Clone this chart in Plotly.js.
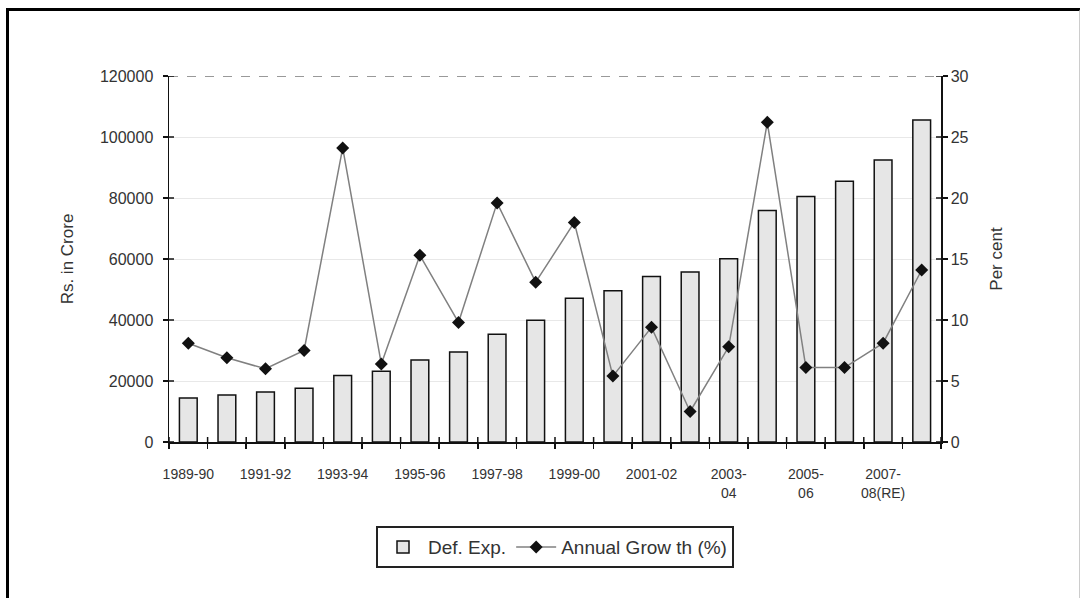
<!DOCTYPE html>
<html>
<head>
<meta charset="utf-8">
<script src="https://cdn.plot.ly/plotly-3.0.1.min.js"></script>
<style>
html,body{margin:0;padding:0;background:#fff;}
#wrap{position:relative;width:1080px;height:598px;overflow:hidden;}
#chart{position:absolute;left:0;top:0;width:1080px;height:598px;}
#frame{position:absolute;left:6px;top:8px;width:1070px;height:600px;border-top:3px solid #000;border-left:3px solid #000;border-right:2px solid #ccc;pointer-events:none;}
</style>
</head>
<body>
<div id="wrap"><div id="chart"></div><div id="frame"></div></div>
<script>
const years = ["1989-90","1990-91","1991-92","1992-93","1993-94","1994-95","1995-96","1996-97","1997-98","1998-99","1999-00","2000-01","2001-02","2002-03","2003-04","2004-05","2005-06","2006-07","2007-08","2008-09"];
const defExp = [14400,15400,16400,17600,21800,23200,26900,29500,35300,39900,47100,49600,54300,55700,60100,75900,80500,85500,92500,105600];
const growth = [8.1,6.9,6.0,7.5,24.1,6.4,15.3,9.8,19.6,13.1,18.0,5.4,9.4,2.5,7.8,26.2,6.1,6.1,8.1,14.1];
const tickCats = ["1989-90","1991-92","1993-94","1995-96","1997-98","1999-00","2001-02","2003-04","2005-06","2007-08"];
const tickLabels = ["1989-90","1991-92","1993-94","1995-96","1997-98","1999-00","2001-02","2003-<br>04","2005-<br>06","2007-<br>08(RE)"];
const leftTicks = [0,20000,40000,60000,80000,100000,120000];
const leftTickText = ["0","20000","40000","60000","80000","100000","120000"];
const rightTicks = [0,5,10,15,20,25,30];

const font = "Liberation Sans, Arial, sans-serif";
const n = years.length;
const W = 1080, H = 598, M = {l:169, r:139, t:76, b:156};
const pw = W - M.l - M.r, ph = H - M.t - M.b;
const TL = 5; // tick length each side, px
const yMax = leftTicks[leftTicks.length - 1], y2Max = rightTicks[rightTicks.length - 1];

// x labels for every category ("" where the reference shows none)
const xText = years.map(c => { const k = tickCats.indexOf(c); return k >= 0 ? tickLabels[k] : ""; });

// inside halves of the crossing tick marks (outside halves come from the axes themselves)
const tline = {color:"#111", width:1.5};
const dx = n * TL / pw;
const tickShapes = [];
leftTicks.forEach(v => tickShapes.push({type:"line", xref:"x", yref:"y", x0:-0.5, x1:-0.5 + dx, y0:v, y1:v, line:tline}));
rightTicks.forEach(v => tickShapes.push({type:"line", xref:"x", yref:"y2", x0:n - 0.5 - dx, x1:n - 0.5, y0:v, y1:v, line:tline}));
for (let i = 0; i <= n; i++) {
  tickShapes.push({type:"line", xref:"x", yref:"y", x0:i - 0.5, x1:i - 0.5, y0:0, y1:yMax * TL / ph, line:tline});
}

const traces = [
  {type:"bar", x:years, y:defExp, name:"Def. Exp.", xaxis:"x", yaxis:"y",
   marker:{color:"#e6e6e6", line:{color:"#111", width:1.5}}},
  {type:"scatter", mode:"lines+markers", x:years, y:growth, name:"Annual Grow th (%)", xaxis:"x", yaxis:"y2",
   line:{color:"#808080", width:1.5}, marker:{symbol:"diamond", size:10, color:"#111"}}
];

const axLine = {showline:true, linecolor:"#111", linewidth:1.5};
const layout = {
  width:W, height:H,
  margin:M,
  paper_bgcolor:"#fff", plot_bgcolor:"#fff",
  font:{family:font, color:"#333"},
  showlegend:true,
  bargap:0.54,
  legend:{orientation:"h", x:0.5, xanchor:"center", y:-0.287, yanchor:"middle",
    bordercolor:"#222", borderwidth:2, font:{size:19, color:"#333"}, bgcolor:"#fff", itemwidth:40},
  xaxis:Object.assign({type:"category", range:[-0.5, n - 0.5], tickmode:"array",
    tickvals:years, ticktext:xText, tickson:"boundaries", ticks:"outside", ticklen:TL, tickwidth:1.5, tickcolor:"#111",
    tickangle:0, showgrid:false, tickfont:{size:14, color:"#333"}, ticklabelstandoff:19, anchor:"y"}, axLine),
  yaxis:Object.assign({range:[0, yMax], tickmode:"array", tickvals:leftTicks, ticktext:leftTickText,
    ticks:"outside", ticklen:TL, tickwidth:1.5, tickcolor:"#111",
    showgrid:true, gridcolor:"#e8e8e8", gridwidth:1, zeroline:false,
    tickfont:{size:16, color:"#333"}, ticklabelstandoff:6, anchor:"x",
    title:{text:"Rs. in Crore", font:{size:17, color:"#333"}, standoff:22}}, axLine),
  yaxis2:Object.assign({overlaying:"y", side:"right", anchor:"x", range:[0, y2Max], tickmode:"array",
    tickvals:rightTicks, ticks:"outside", ticklen:TL, tickwidth:1.5, tickcolor:"#111",
    showgrid:false, zeroline:false, tickfont:{size:16, color:"#333"},
    title:{text:"Per cent", font:{size:17, color:"#333"}, standoff:22}}, axLine),
  shapes:[{type:"line", xref:"paper", yref:"y", x0:0, x1:1, y0:yMax, y1:yMax,
    line:{color:"#999", width:2, dash:"dash"}, layer:"above"}].concat(tickShapes)
};

Plotly.newPlot("chart", traces, layout, {staticPlot:true, displayModeBar:false});
</script>
</body>
</html>
